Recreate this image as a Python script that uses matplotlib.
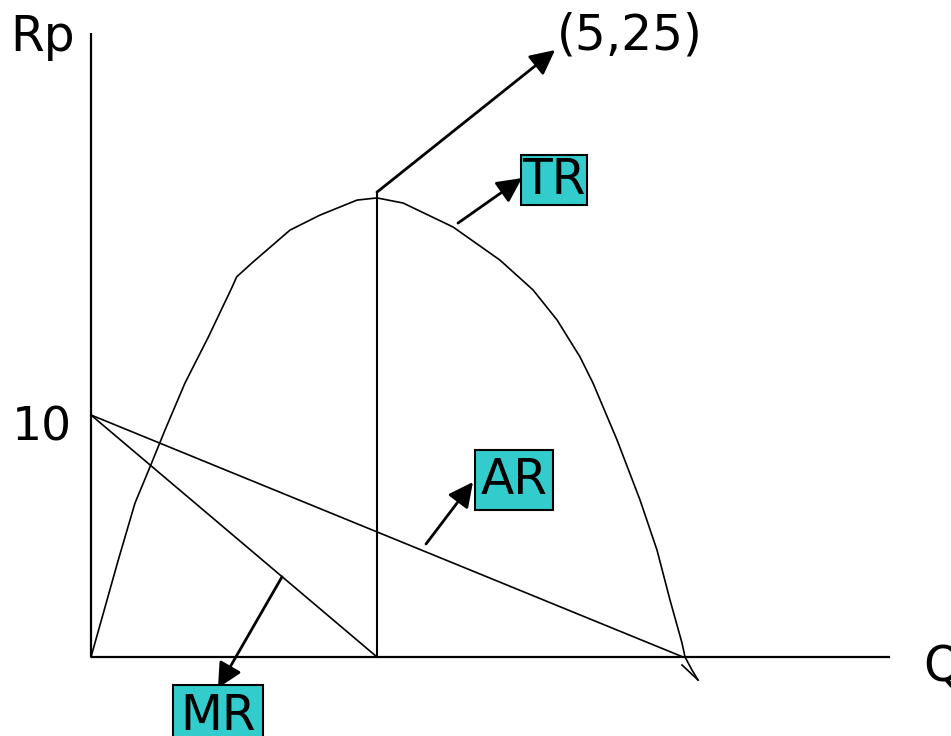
import matplotlib
matplotlib.use("Agg")
import matplotlib.pyplot as plt
from matplotlib.patches import FancyArrowPatch

# ---- data (Q units on x, Rp units on y) ----
tr_q = [0.0, 0.477, 0.769, 1.031, 1.294, 1.643, 2.051, 2.460, 2.547, 2.832, 3.479,
        4.003, 4.650, 5.0, 5.455, 6.329, 7.150, 7.727, 8.147, 8.549, 8.776, 9.196,
        9.598, 9.895, 10.122, 10.332, 10.385, 10.507, 10.612]
tr_r = [0.0, 4.01, 6.36, 7.85, 9.38, 11.32, 13.22, 15.25, 15.71, 16.32, 17.64,
        18.26, 18.88, 18.97, 18.76, 17.77, 16.40, 15.17, 13.93, 12.40, 11.32, 8.97,
        6.49, 4.42, 2.36, 0.58, 0.0, -0.54, -0.95]
tr_tick_q = [10.332, 10.612]
tr_tick_r = [-0.33, -0.95]

ar_q = [0.0, 10.35]
ar_r = [10.0, 0.0]
mr_q = [0.0, 5.0]
mr_r = [10.0, 0.0]
q_max_tr = 5.0
vline_top = 19.21
point_label = "(5,25)"
point_xy = (8.112, 25.08)
y_tick_value = 10
y_tick_label = "10"

fig = plt.figure(figsize=(9.51, 7.36), dpi=100)
ax = fig.add_axes([0, 0, 1, 1])
ax.set_xlim(-91 / 57.2, 860 / 57.2)
ax.set_ylim((657 - 736) / 24.2, 657 / 24.2)
ax.axis("off")

fs = 35
lw_axis = 1.6
lw_line = 1.2

# axes lines
ax.plot([0, 0], [0, 25.79], color="black", lw=lw_axis, solid_capstyle="butt")
ax.plot([0, 13.97], [0, 0], color="black", lw=lw_axis, solid_capstyle="butt")

# curves
ax.plot(tr_q, tr_r, color="black", lw=lw_line, solid_joinstyle="round")
ax.plot(tr_tick_q, tr_tick_r, color="black", lw=lw_line)
ax.plot(ar_q, ar_r, color="black", lw=lw_line)
ax.plot(mr_q, mr_r, color="black", lw=lw_line)
ax.plot([q_max_tr, q_max_tr], [0, vline_top], color="black", lw=lw_line + 0.3)


def arrow(p0, p1):
    a = FancyArrowPatch(p0, p1, arrowstyle="-|>,head_length=10,head_width=5",
                        mutation_scale=1.5, color="black", lw=2.0, shrinkA=0, shrinkB=0)
    ax.add_patch(a)


arrow((q_max_tr, vline_top), point_xy)
arrow((6.416, 17.93), (7.535, 19.79))
arrow((5.857, 4.67), (6.678, 7.23))
arrow((3.339, 3.31), (2.22, -1.28))

# texts
ax.text(8.15, 25.70, point_label, fontsize=fs, ha="left", va="center")
ax.text(-0.28, 25.62, "Rp", fontsize=fs, ha="right", va="center")
ax.text(-0.33, y_tick_value - 0.55, y_tick_label, fontsize=fs - 1, ha="right", va="center")
ax.text(14.545, -0.45, "Q", fontsize=fs, ha="left", va="center")

box_col = "#33CCCC"
ax.text(8.094, 19.71, "TR", fontsize=fs, ha="center", va="center",
        bbox=dict(boxstyle="square,pad=0.02", fc=box_col, ec="black", lw=1.5))
ax.text(7.395, 7.31, "AR", fontsize=fs, ha="center", va="center",
        bbox=dict(boxstyle="square,pad=0.12", fc=box_col, ec="black", lw=1.5))
ax.text(2.22, -2.45, "MR", fontsize=fs, ha="center", va="center",
        bbox=dict(boxstyle="square,pad=0.15", fc=box_col, ec="black", lw=1.5))

fig.savefig("out.png", dpi=100)
